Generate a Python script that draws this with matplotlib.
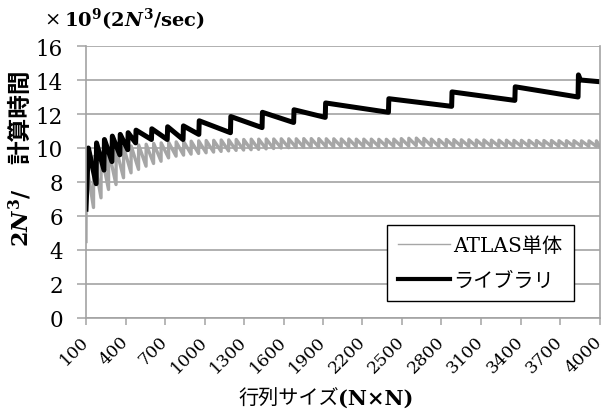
import matplotlib
matplotlib.use("Agg")
import matplotlib.pyplot as plt
from matplotlib.lines import Line2D
from matplotlib.transforms import ScaledTranslation

W, H = 604, 414

# ライブラリ: vertices (matrix size N, 10^9 x 2N^3/sec)
lib_n = [100, 118, 177, 180, 237, 240, 297, 300, 357, 360, 417, 420, 477, 480,
         597, 600, 717, 720, 837, 840, 957, 960, 1197, 1200, 1437, 1440,
         1677, 1680, 1917, 1920, 2397, 2400, 2877, 2880, 3357, 3360, 3837, 3840,
         3855, 4000]
lib_val = [6.4, 10.0, 7.9, 10.3, 8.7, 10.5, 9.2, 10.7, 9.6, 10.8, 9.9, 10.9, 10.3, 11.05,
           10.5, 11.13, 10.5, 11.25, 10.5, 11.3, 10.8, 11.6, 10.9, 11.85, 11.2, 12.1,
           11.5, 12.25, 11.8, 12.65, 12.1, 12.9, 12.45, 13.3, 12.8, 13.6, 13.0, 14.3,
           14.0, 13.9]

# ATLAS単体: sawtooth, jump N of each tooth, its peak and the trough at its end
atlas_start_n = 100
atlas_start_val = 4.5
atlas_jump_n = [102, 158, 215, 272, 329, 386, 443, 500, 557, 614, 671, 728, 785, 842,
                899, 956, 1013, 1070, 1127, 1184, 1241, 1298, 1355, 1412, 1469, 1526,
                1583, 1640, 1697, 1754, 1811, 1868, 1925, 1982, 2039, 2096, 2153, 2210,
                2267, 2324, 2381, 2438, 2495, 2552, 2609, 2666, 2723, 2780, 2837, 2894,
                2951, 3008, 3065, 3122, 3179, 3236, 3293, 3350, 3407, 3464, 3521, 3578,
                3635, 3692, 3749, 3806, 3863, 3920, 3977]
atlas_peak = [9.2, 9.5, 9.7, 9.85, 9.95, 10.05, 10.12, 10.18, 10.22, 10.27,
              10.3, 10.33, 10.36, 10.38, 10.4, 10.42, 10.44, 10.45, 10.47, 10.48,
              10.5, 10.5, 10.52, 10.52, 10.53, 10.53, 10.54, 10.54, 10.54, 10.55,
              10.55, 10.55, 10.54, 10.54, 10.53, 10.53, 10.52, 10.52, 10.52, 10.51,
              10.51, 10.52, 10.55, 10.57, 10.58, 10.56, 10.52, 10.5, 10.5, 10.49,
              10.48, 10.48, 10.47, 10.47, 10.46, 10.46, 10.46, 10.45, 10.45, 10.45,
              10.44, 10.44, 10.44, 10.43, 10.43, 10.43, 10.42, 10.42, 10.42]
atlas_trough = [6.5, 7.07, 7.56, 7.85, 8.25, 8.54, 8.74, 8.93, 9.09, 9.22,
                9.42, 9.52, 9.58, 9.64, 9.68, 9.72, 9.76, 9.8, 9.83, 9.86,
                9.88, 9.9, 9.92, 9.95, 9.97, 10.0, 10.02, 10.03, 10.05, 10.05,
                10.06, 10.07, 10.07, 10.08, 10.08, 10.08, 10.09, 10.09, 10.09, 10.1,
                10.1, 10.1, 10.12, 10.14, 10.15, 10.13, 10.1, 10.1, 10.1, 10.1,
                10.1, 10.1, 10.1, 10.1, 10.1, 10.1, 10.1, 10.1, 10.1, 10.1,
                10.1, 10.1, 10.1, 10.1, 10.1, 10.1, 10.1, 10.1, 10.1]

x_ticks = [100, 400, 700, 1000, 1300, 1600, 1900, 2200, 2500, 2800, 3100, 3400, 3700, 4000]
y_ticks = [0, 2, 4, 6, 8, 10, 12, 14, 16]
series_labels = ["ATLAS単体", "ライブラリ"]

plt.rcParams["mathtext.fontset"] = "custom"
plt.rcParams["mathtext.rm"] = "DejaVu Serif:bold"
plt.rcParams["mathtext.bf"] = "DejaVu Serif:bold"
plt.rcParams["mathtext.it"] = "DejaVu Serif:italic:bold"

SERIF = "DejaVu Serif"
JP = "Noto Sans CJK JP"
GRID = "#a3a3a3"
ATLAS_COLOR = "#a6a6a6"


def fx(px):
    return px / W


def fy(py):
    return 1 - py / H


# build the sawtooth polyline from the tooth values
atlas_x = [atlas_start_n]
atlas_y = [atlas_start_val]
for i, n0 in enumerate(atlas_jump_n):
    n1 = atlas_jump_n[i + 1] - 1 if i + 1 < len(atlas_jump_n) else 4000
    atlas_x += [n0, n1]
    atlas_y += [atlas_peak[i], atlas_trough[i]]

fig = plt.figure(figsize=(W / 100, H / 100), dpi=100)
ax = fig.add_axes([fx(86), fy(319), (599.5 - 86) / W, (319 - 47) / H])

ax.plot(atlas_x, atlas_y, color=ATLAS_COLOR, lw=2.4, solid_joinstyle="round")
ax.plot(lib_n, lib_val, color="black", lw=3.6, solid_joinstyle="round")

ax.set_xlim(100, 4000)
ax.set_ylim(0, 16)
ax.set_yticks(y_ticks)
ax.set_xticks(x_ticks)
ax.set_yticklabels([str(v) for v in y_ticks], fontfamily=SERIF, fontsize=15.5)
ax.set_xticklabels([str(v) for v in x_ticks], fontfamily=SERIF, fontsize=12.5,
                   rotation=45, ha="right", va="center", rotation_mode="anchor")
offset = ScaledTranslation(5 / 100, 0, fig.dpi_scale_trans)
for lbl in ax.get_xticklabels():
    lbl.set_transform(lbl.get_transform() + offset)

ax.yaxis.grid(True, color=GRID, lw=1.2)
ax.set_axisbelow(True)
for side in ["left", "bottom", "right"]:
    ax.spines[side].set_color(GRID)
    ax.spines[side].set_linewidth(1.2)
ax.spines["top"].set_visible(False)
ax.tick_params(axis="y", length=6.5, width=1.1, color=GRID, pad=10)
ax.tick_params(axis="x", length=5, width=1.1, color=GRID, pad=10)

handles = [Line2D([], [], color=ATLAS_COLOR, lw=1.0),
           Line2D([], [], color="black", lw=3.0)]
leg = ax.legend(handles, series_labels, loc="lower left",
                bbox_to_anchor=(0.586, 0.0625), borderaxespad=0,
                prop={"family": [SERIF, JP], "size": 14.5},
                frameon=True, fancybox=False, framealpha=1, edgecolor="black",
                handlelength=2.6, handletextpad=0.15, labelspacing=0.8,
                borderpad=0.55)
leg.get_frame().set_linewidth(1.0)

# unit label above the axis
fig.text(fx(52), fy(20), "×", fontfamily=SERIF, fontsize=14, ha="center", va="center")
fig.text(fx(64), fy(20), r"$10^9(2N^3/\mathrm{sec})$", fontsize=14, ha="left", va="center")

# y axis label
fig.text(fx(20), fy(117), "計算時間", fontfamily=JP, fontweight="bold", fontsize=17,
         rotation=90, ha="center", va="center")
fig.text(fx(20), fy(218), r"$2N^3$/", fontfamily=SERIF, fontweight="bold", fontsize=16,
         rotation=90, ha="center", va="center")

# x axis label
fig.text(fx(289), fy(399), "行列サイズ", fontfamily=JP, fontsize=14.5, ha="center", va="center")
fig.text(fx(338), fy(399), "(N×N)", fontfamily=SERIF, fontweight="bold", fontsize=15,
         ha="left", va="center")

fig.savefig("out.png", dpi=100)
